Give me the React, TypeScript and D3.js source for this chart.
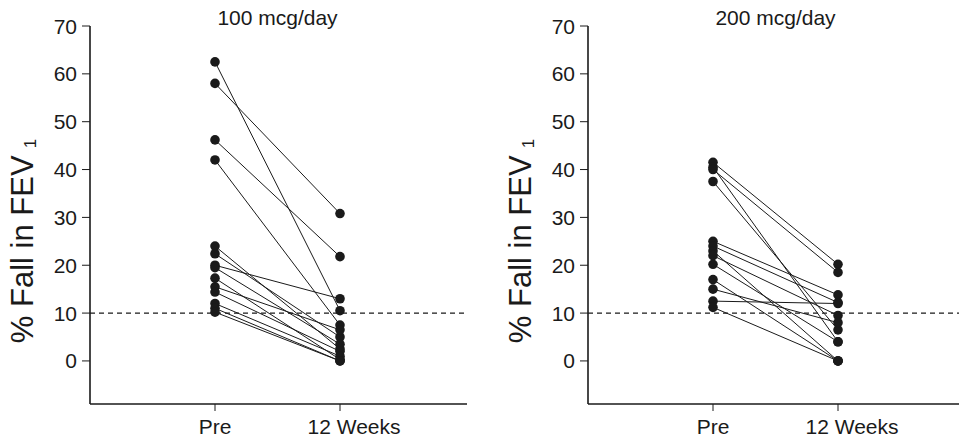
import React from "react";
import * as d3 from "d3";

const timepoints = ["Pre", "12 Weeks"];
const yTicks = [0, 10, 20, 30, 40, 50, 60, 70];
const panelTitles = ["100 mcg/day", "200 mcg/day"];

const pre100 = [62.5, 58, 46.2, 42, 24, 22.4, 20, 19.5, 17.3, 15.5, 14.4, 12, 11, 10.2];
const wk100 = [10.5, 30.8, 21.8, 7.5, 2.5, 5, 13, 3.5, 0.3, 6.5, 2, 1, 0, 0];

const pre200 = [41.5, 40.5, 40, 37.5, 25, 24, 23, 22, 20.2, 17, 15, 12.5, 11.2];
const wk200 = [20.2, 4, 18.5, 6.5, 13.8, 12.2, 0, 9.5, 4, 0, 8, 12, 0];

const threshold = 10;

const W = 959;
const H = 447;

function Panel({ x0, xEnd, title, pre, wk }: { x0: number; xEnd: number; title: string; pre: number[]; wk: number[] }) {
  const y = d3.scaleLinear().domain([-9, 70]).range([404, 26]);
  const x = d3.scaleLinear().domain([0, 3]).range([x0, x0 + 375]);
  const font = "'Liberation Sans', Arial, sans-serif";
  const ink = "#1a1a1a";
  return (
    <g>
      <text x={x(1.5)} y={25} textAnchor="middle" fontFamily={font} fontSize={21} fill={ink}>{title}</text>
      <text transform={`translate(${x0 - 57},241) rotate(-90)`} textAnchor="middle" fontFamily={font} fontSize={31} fill={ink}>
        % Fall in FEV<tspan dx="7" dy="3" fontSize={17}>1</tspan>
      </text>
      <line x1={x0} x2={x0} y1={y(70)} y2={404} stroke={ink} strokeWidth={1.6} />
      <line x1={x0} x2={xEnd} y1={404} y2={404} stroke={ink} strokeWidth={1.6} />
      {yTicks.map((t) => (
        <g key={t}>
          <line x1={x0 - 8} x2={x0} y1={y(t)} y2={y(t)} stroke={ink} strokeWidth={1} />
          <text x={x0 - 13} y={y(t)} dy="0.36em" textAnchor="end" fontFamily={font} fontSize={21} fill={ink}>{t}</text>
        </g>
      ))}
      {timepoints.map((tp, i) => (
        <g key={tp}>
          <line x1={x(i + 1)} x2={x(i + 1)} y1={404} y2={411} stroke={ink} strokeWidth={1} />
          <text x={x(i + 1) + (i === 1 ? 14 : 0)} y={434} textAnchor="middle" fontFamily={font} fontSize={21} fill={ink}>{tp}</text>
        </g>
      ))}
      <line x1={x0} x2={xEnd} y1={y(threshold)} y2={y(threshold)} stroke={ink} strokeWidth={1.2} strokeDasharray="5,4" />
      {pre.map((p, i) => (
        <line key={"l" + i} x1={x(1)} x2={x(2)} y1={y(p)} y2={y(wk[i])} stroke={ink} strokeWidth={1} />
      ))}
      {pre.map((p, i) => (
        <circle key={"p" + i} cx={x(1)} cy={y(p)} r={4.8} fill={ink} />
      ))}
      {wk.map((v, i) => (
        <circle key={"w" + i} cx={x(2)} cy={y(v)} r={4.8} fill={ink} />
      ))}
    </g>
  );
}

export default function App() {
  return (
    <svg width={W} height={H} style={{ position: "absolute", left: 0, top: 0, background: "#fff" }}>
      <rect width={W} height={H} fill="#fff" />
      <Panel x0={90} xEnd={467} title={panelTitles[0]} pre={pre100} wk={wk100} />
      <Panel x0={588} xEnd={959} title={panelTitles[1]} pre={pre200} wk={wk200} />
    </svg>
  );
}
